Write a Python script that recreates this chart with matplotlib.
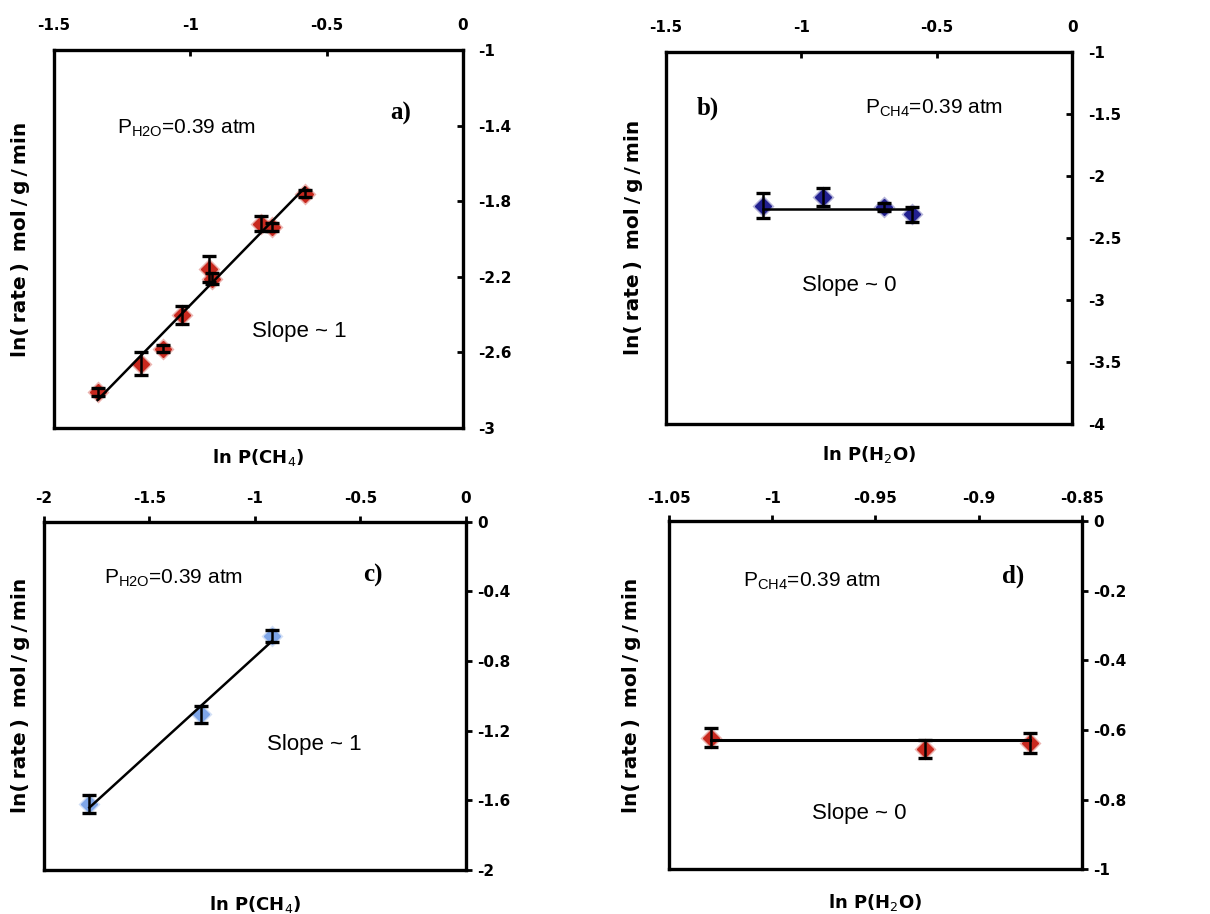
import numpy as np
import matplotlib
matplotlib.use("Agg")
from matplotlib import pyplot as plt

# a) rate vs CH4 partial pressure, P(H2O) fixed
a_x = [-1.34, -1.18, -1.10, -1.03, -0.93, -0.92, -0.74, -0.70, -0.58]
a_y = [-2.81, -2.66, -2.58, -2.40, -2.16, -2.21, -1.92, -1.935, -1.76]
a_err = [0.02, 0.062, 0.02, 0.047, 0.07, 0.03, 0.04, 0.02, 0.02]

# b) rate vs H2O partial pressure, P(CH4) fixed
b_x = [-1.14, -0.92, -0.695, -0.59]
b_y = [-2.24, -2.17, -2.25, -2.31]
b_err = [0.10, 0.07, 0.03, 0.06]
b_level = -2.27

# c) second catalyst, rate vs CH4
c_x = [-1.785, -1.254, -0.92]
c_y = [-1.622, -1.106, -0.656]
c_err = [0.05, 0.05, 0.035]

# d) second catalyst, rate vs H2O
d_x = [-1.0296, -0.926, -0.875]
d_y = [-0.622, -0.655, -0.638]
d_err = [0.028, 0.025, 0.028]
d_level = -0.629

ts = "\u2009"  # thin space, the axis titles are set loosely
ylab = "ln(" + ts + "rate" + ts + ")" + ts + " mol" + ts + "/" + ts + "g" + ts + "/" + ts + "min"
tickfont = dict(family="DejaVu Sans", weight="bold", size=11)
labfont = dict(family="DejaVu Sans", weight="bold")
annfont = dict(family="Liberation Sans")
letterfont = dict(family="Liberation Serif", weight="bold")

fig = plt.figure(figsize=(12.1, 9.14), dpi=100)


def panel(rect, xlim, ylim, xticks, yticks, tickdir, xpad, ypad):
    ax = fig.add_axes(rect)
    ax.set_xlim(xlim)
    ax.set_ylim(ylim)
    ax.xaxis.tick_top()
    ax.yaxis.tick_right()
    ax.set_xticks(xticks)
    ax.set_yticks(yticks)
    ax.set_xticklabels([fmt(v) for v in xticks], fontdict=tickfont)
    ax.set_yticklabels([fmt(v) for v in yticks], fontdict=tickfont)
    ax.tick_params(direction=tickdir, length=4, width=2)
    ax.tick_params(axis="x", pad=xpad)
    ax.tick_params(axis="y", pad=ypad)
    for s in ax.spines.values():
        s.set_linewidth(2.4)
    return ax


def fmt(v):
    s = ("%.2f" % v).rstrip("0").rstrip(".")
    if s == "-0":
        s = "0"
    return s


def points(ax, x, y, err, color):
    ax.plot(x, y, "D", ms=11, color=color, alpha=0.35, mec="none", zorder=2)
    ax.plot(x, y, "D", ms=8, color=color, mec=color, zorder=3)
    ax.errorbar(x, y, yerr=err, fmt="none", ecolor="black", elinewidth=1.8,
                capsize=4.8, capthick=2.4, zorder=4)


def labels(ax, ylx, xly, xname):
    ax.text(ylx, 0.5, ylab, transform=ax.transAxes, rotation=90,
            ha="center", va="center", fontsize=14.5, **labfont)
    ax.text(0.5, xly, xname, transform=ax.transAxes,
            ha="center", va="center", fontsize=13, **labfont)


# panel a
ax1 = panel([0.0446, 0.5317, 0.338, 0.4136], (-1.5, 0), (-3, -1),
            [-1.5, -1, -0.5, 0], [-3, -2.6, -2.2, -1.8, -1.4, -1], "in", 12, 11)
points(ax1, a_x, a_y, a_err, "#c8281e")
k, b = np.polyfit(a_x, a_y, 1)
xs = np.array([min(a_x), max(a_x)])
ax1.plot(xs, k * xs + b, color="black", lw=1.8, zorder=3)
ax1.text(0.153, 0.794, r"P$_{\mathregular{H2O}}$=0.39 atm", transform=ax1.transAxes,
         va="center", fontsize=15, **annfont)
ax1.text(0.823, 0.833, "a)", transform=ax1.transAxes, va="center", fontsize=18, **letterfont)
ax1.text(0.483, 0.255, "Slope ~ 1", transform=ax1.transAxes, va="center", fontsize=16, **annfont)
labels(ax1, -0.083, -0.079, r"ln P(CH$_4$)")

# panel b
ax2 = panel([0.5502, 0.5361, 0.3361, 0.4073], (-1.5, 0), (-4, -1),
            [-1.5, -1, -0.5, 0], [-4, -3.5, -3, -2.5, -2, -1.5, -1], "in", 12, 11)
points(ax2, b_x, b_y, b_err, "#22208f")
ax2.plot([min(b_x), max(b_x)], [b_level, b_level], color="black", lw=1.8, zorder=3)
ax2.text(0.076, 0.848, "b)", transform=ax2.transAxes, va="center", fontsize=18, **letterfont)
ax2.text(0.49, 0.848, r"P$_{\mathregular{CH4}}$=0.39 atm", transform=ax2.transAxes,
         va="center", fontsize=15, **annfont)
ax2.text(0.336, 0.373, "Slope ~ 0", transform=ax2.transAxes, va="center", fontsize=16, **annfont)
labels(ax2, -0.080, -0.083, r"ln P(H$_2$O)")

# panel c
ax3 = panel([0.0364, 0.0481, 0.3485, 0.3811], (-2, 0), (-2, 0),
            [-2, -1.5, -1, -0.5, 0], [-2, -1.6, -1.2, -0.8, -0.4, 0], "out", 7, 4)
points(ax3, c_x, c_y, c_err, "#7fa6e8")
k, b = np.polyfit(c_x, c_y, 1)
xs = np.array([min(c_x), max(c_x)])
ax3.plot(xs, k * xs + b, color="black", lw=1.8, zorder=3)
ax3.text(0.141, 0.837, r"P$_{\mathregular{H2O}}$=0.39 atm", transform=ax3.transAxes,
         va="center", fontsize=15, **annfont)
ax3.text(0.757, 0.845, "c)", transform=ax3.transAxes, va="center", fontsize=18, **letterfont)
ax3.text(0.528, 0.359, "Slope ~ 1", transform=ax3.transAxes, va="center", fontsize=16, **annfont)
labels(ax3, -0.057, -0.100, r"ln P(CH$_4$)")

# panel d
ax4 = panel([0.5529, 0.0489, 0.3411, 0.3811], (-1.05, -0.85), (-1, 0),
            [-1.05, -1, -0.95, -0.9, -0.85], [-1, -0.8, -0.6, -0.4, -0.2, 0], "out", 7, 4)
points(ax4, d_x, d_y, d_err, "#c8281e")
ax4.plot([min(d_x), max(d_x)], [d_level, d_level], color="black", lw=2.2, zorder=3)
ax4.text(0.18, 0.826, r"P$_{\mathregular{CH4}}$=0.39 atm", transform=ax4.transAxes,
         va="center", fontsize=15, **annfont)
ax4.text(0.806, 0.84, "d)", transform=ax4.transAxes, va="center", fontsize=18, **letterfont)
ax4.text(0.346, 0.161, "Slope ~ 0", transform=ax4.transAxes, va="center", fontsize=16, **annfont)
labels(ax4, -0.090, -0.094, r"ln P(H$_2$O)")

fig.savefig("out.png", dpi=100)
